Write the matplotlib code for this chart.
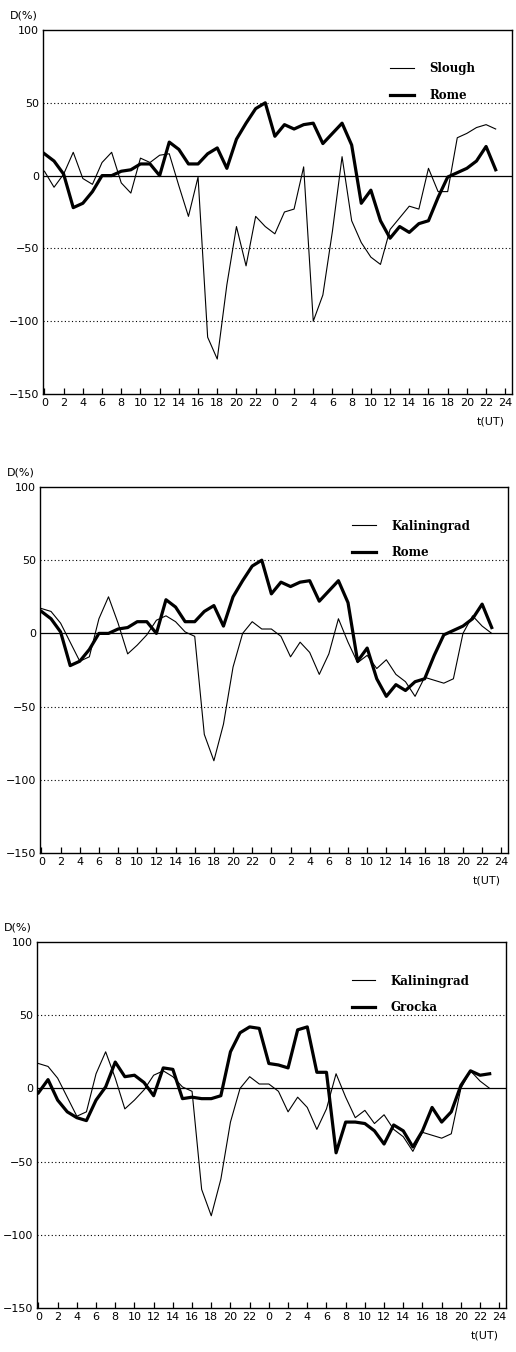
import matplotlib
matplotlib.use("Agg")
import matplotlib.pyplot as plt
import numpy as np

hours = list(range(48))
tick_pos = list(range(0, 49, 2))
tick_labels = [str(h) for h in range(0, 24, 2)] + [str(h) for h in range(0, 25, 2)]

slough = [3, -8, 1, 16, -2, -6, 9, 16, -5, -12, 12, 9, 14, 15, -7, -28, -1, -111, -126, -75, -35, -62, -28, -35,
          -40, -25, -23, 6, -100, -82, -38, 13, -31, -46, -56, -61, -37, -29, -21, -23, 5, -11, -11, 26, 29, 33, 35, 32]
rome = [15, 10, 1, -22, -19, -11, 0, 0, 3, 4, 8, 8, 0, 23, 18, 8, 8, 15, 19, 5, 25, 36, 46, 50,
        27, 35, 32, 35, 36, 22, 29, 36, 21, -19, -10, -31, -43, -35, -39, -33, -31, -15, -1, 2, 5, 10, 20, 4]
kaliningrad = [17, 15, 7, -6, -19, -16, 10, 25, 7, -14, -8, -1, 9, 12, 8, 1, -2, -69, -87, -62, -23, 0, 8, 3,
               3, -2, -16, -6, -13, -28, -14, 10, -6, -20, -15, -24, -18, -28, -33, -43, -30, -32, -34, -31, 0, 12, 5, 0]
grocka = [-3, 6, -8, -16, -20, -22, -8, 1, 18, 8, 9, 4, -5, 14, 13, -7, -6, -7, -7, -5, 25, 38, 42, 41,
          17, 16, 14, 40, 42, 11, 11, -44, -23, -23, -24, -29, -38, -25, -29, -40, -29, -13, -23, -16, 2, 12, 9, 10]

panels = [
    ("Slough", slough, "Rome", rome),
    ("Kaliningrad", kaliningrad, "Rome", rome),
    ("Kaliningrad", kaliningrad, "Grocka", grocka),
]

W, H = 516, 1352
fig = plt.figure(figsize=(W / 100, H / 100), dpi=100)
fig.patch.set_facecolor("white")

# (left, right, top, bottom) in pixels, legend x anchor (axes fraction)
boxes = [(43, 512, 30, 394, 0.718), (40, 508, 487, 853, 0.645), (37, 506, 942, 1308, 0.648)]

for (thin_name, thin_vals, thick_name, thick_vals), (l, r, t, b, lx) in zip(panels, boxes):
    ax = fig.add_axes([l / W, 1 - b / H, (r - l) / W, (b - t) / H])
    ax.set_xlim(-0.15, 48.7)
    ax.set_ylim(-150, 100)
    for yv in (50, -50, -100):
        ax.axhline(yv, color="black", linestyle=(0, (1, 2.2)), linewidth=0.8)
    ax.axhline(0, color="black", linewidth=0.9)
    ax.plot(hours, thin_vals, color="black", linewidth=0.8, label=thin_name)
    ax.plot(hours, thick_vals, color="black", linewidth=2.3, label=thick_name)
    ax.set_xticks(tick_pos)
    ax.set_xticklabels(tick_labels, fontsize=8, family="DejaVu Sans")
    ax.set_yticks([100, 50, 0, -50, -100, -150])
    ax.set_yticklabels(["100", "50", "0", "\u2212" + "50", "\u2212" + "100", "\u2212" + "150"],
                       fontsize=8, family="DejaVu Sans")
    ax.tick_params(axis="x", direction="in", length=4, width=0.9, pad=3)
    ax.tick_params(axis="y", length=0, pad=3)
    for sp in ax.spines.values():
        sp.set_linewidth(1.0)
        sp.set_color("black")
    ax.legend(loc="upper left", bbox_to_anchor=(lx, 0.94), frameon=False,
              handlelength=2.0, handletextpad=1.3, labelspacing=1.15,
              prop={"family": "DejaVu Serif", "weight": "bold", "size": 8.5})
    ax.text(-0.07, 1.025, "D(%)", transform=ax.transAxes, fontsize=8,
            family="DejaVu Sans", ha="left", va="bottom")
    ax.text(0.985, -0.062, "t(UT)", transform=ax.transAxes, fontsize=8,
            family="DejaVu Sans", ha="right", va="top")

fig.savefig("out.png", dpi=100, facecolor="white")
